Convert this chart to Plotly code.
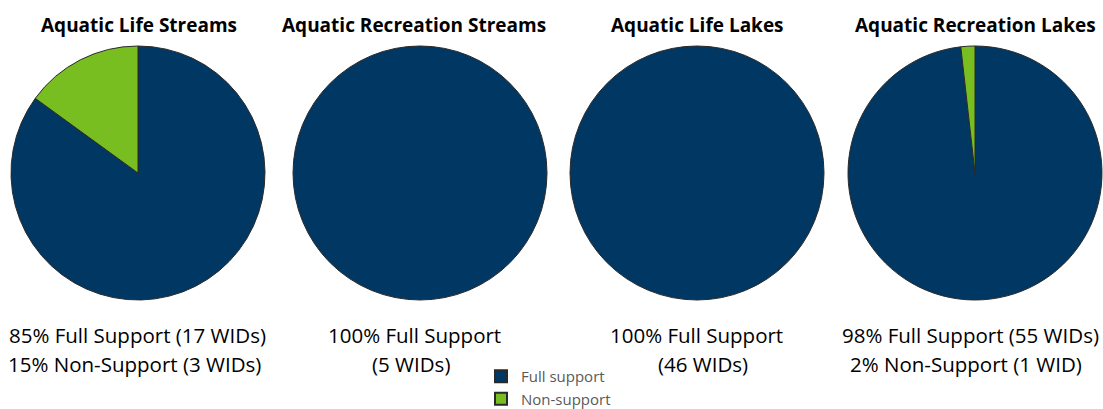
import plotly.graph_objects as go

titles = ["Aquatic Life Streams", "Aquatic Recreation Streams", "Aquatic Life Lakes", "Aquatic Recreation Lakes"]
labels = ["Full support", "Non-support"]
full_wids = [17, 5, 46, 55]
non_wids = [3, 0, 0, 1]
caption_line1 = ["85% Full Support (17 WIDs)", "100% Full Support", "100% Full Support", "98% Full Support (55 WIDs)"]
caption_line2 = ["15% Non-Support (3 WIDs)", "(5 WIDs)", "(46 WIDs)", "2% Non-Support (1 WID)"]
colors = ["#003763", "#78BE20"]

W, H = 1103, 409
centers = [138, 420, 697, 975]
title_x = [139, 414, 697, 975]
cap1_x = [137, 414, 696, 970]
cap2_x = [134, 411, 703, 966]
radius = 127
cy = 173

fig = go.Figure()
for i in range(4):
    cx = centers[i]
    vals = [full_wids[i], non_wids[i]]
    labs = [l for l, v in zip(labels, vals) if v > 0]
    cols = [c for c, v in zip(colors, vals) if v > 0]
    vals = [v for v in vals if v > 0]
    x0 = max(0.0, (cx - radius) / W)
    x1 = min(1.0, (cx + radius) / W)
    y0 = max(0.0, 1 - (cy + radius) / H)
    y1 = min(1.0, 1 - (cy - radius) / H)
    fig.add_trace(go.Pie(
        labels=labs,
        values=vals,
        sort=False,
        direction="clockwise",
        rotation=0,
        textinfo="none",
        hoverinfo="label+value+percent",
        marker=dict(colors=cols, line=dict(color="#2a2a2a", width=1)),
        domain=dict(x=[x0, x1], y=[y0, y1]),
        showlegend=(i == 0),
    ))
    fig.add_annotation(x=title_x[i] / W, y=1 - 25 / H, xref="paper", yref="paper",
                       text="<b>" + titles[i] + "</b>", showarrow=False,
                       font=dict(family="Open Sans", size=19, color="#000000"),
                       xanchor="center", yanchor="middle")
    fig.add_annotation(x=cap1_x[i] / W, y=1 - 335 / H, xref="paper", yref="paper",
                       text=caption_line1[i], showarrow=False,
                       font=dict(family="Open Sans", size=20.5, color="#000000"),
                       xanchor="center", yanchor="middle")
    fig.add_annotation(x=cap2_x[i] / W, y=1 - 364 / H, xref="paper", yref="paper",
                       text=caption_line2[i], showarrow=False,
                       font=dict(family="Open Sans", size=20.5, color="#000000"),
                       xanchor="center", yanchor="middle")

fig.update_layout(
    width=W, height=H,
    margin=dict(l=0, r=0, t=0, b=0, autoexpand=False),
    paper_bgcolor="white",
    plot_bgcolor="white",
    legend=dict(x=481 / W, y=1 - 360 / H, xanchor="left", yanchor="top",
                font=dict(family="Open Sans", size=15, color="#595959"),
                traceorder="normal", itemsizing="constant",
                tracegroupgap=0, bgcolor="rgba(0,0,0,0)"),
)
fig.write_html("out.html", config={"displayModeBar": False},
               post_script="document.body.style.margin='0';")
